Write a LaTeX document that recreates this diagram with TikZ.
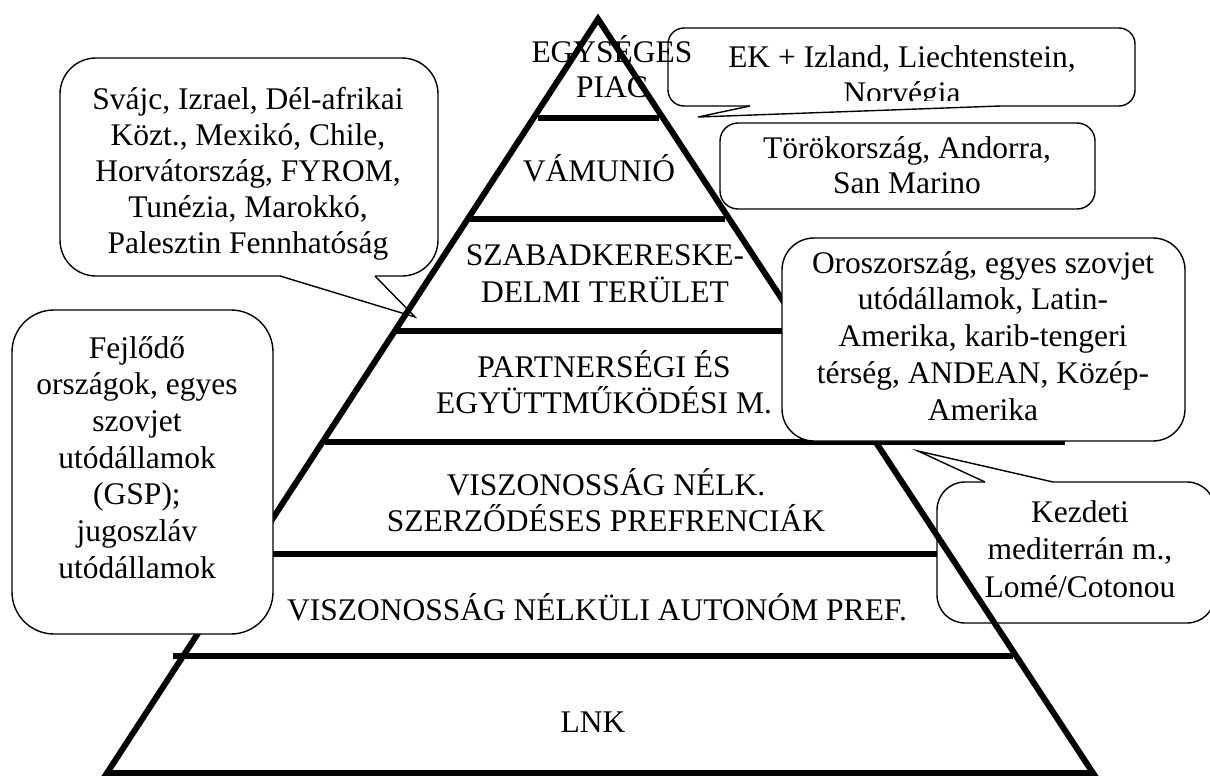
\documentclass[tikz,border=0pt]{standalone}
\usepackage{fontspec}
\setmainfont{Liberation Serif}
\newcommand{\ml}[2][36]{\vtop{\baselineskip=#1pt\lineskiplimit=-\maxdimen\halign{\hfil##\hfil\cr#2\crcr}}}
\begin{document}
\begin{tikzpicture}[x=1pt,y=-1pt,
  every node/.style={inner sep=0pt, outer sep=0pt, font=\fontsize{31.5}{36}\selectfont},
  lvl/.style={line width=5.5pt},
  pyr/.style={line width=6pt, line join=miter},
  box/.style={draw, line width=1.4pt, fill=white, anchor=north west},
  ptr/.style={draw, line width=1.4pt, line join=miter},
  txt/.style={anchor=base},
]
\useasboundingbox (0,0) rectangle (1210,776);

% level lines
\draw[lvl] (538,118) -- (659,118);
\draw[lvl] (470,219) -- (725,219);
\draw[lvl] (395,331) -- (800,331);
\draw[lvl] (325,442) -- (1065,442);
\draw[lvl] (255,554) -- (945,554);
\draw[lvl] (173,656) -- (1013,656);

% callouts under the pyramid outline
\node[box, rounded corners=36pt, minimum width=378pt, minimum height=218pt] (svajc) at (60,58) {};
\coordinate (svajctip) at (415,317);
\fill[white] (280,271) -- (280,276) -- (svajctip) -- (375,276) -- (375,271) -- cycle;
\draw[ptr] (280,276) -- (svajctip) -- (375,276);

\node[box, rounded corners=16pt, minimum width=467pt, minimum height=78pt] (ek) at (668,28) {};
\coordinate (ektip) at (698,117);
\fill[white] (750,101) -- (750,106) -- (ektip) -- (1000,106) -- (1000,101) -- cycle;
\draw[ptr] (750,106) -- (ektip) -- (1000,106);

\node[box, rounded corners=18pt, minimum width=375pt, minimum height=86pt] (torok) at (720,123) {};

\node[box, rounded corners=28pt, minimum width=278pt, minimum height=141pt] (kezdeti) at (937,482) {};
\coordinate (kezdetitip) at (918,451);
\fill[white] (985,487) -- (985,482) -- (kezdetitip) -- (1053,482) -- (1053,487) -- cycle;
\draw[ptr] (985,482) -- (kezdetitip) -- (1053,482);

% pyramid outline
\coordinate (apex) at (598,19);
\coordinate (bl) at (107,773);
\coordinate (br) at (1093,773);
\draw[pyr] (apex) -- (bl) -- (br) -- cycle;

% callouts above the pyramid outline
\node[box, rounded corners=42pt, minimum width=261pt, minimum height=324pt] (fejlodo) at (12,310) {};
\node[box, rounded corners=32pt, minimum width=403pt, minimum height=203pt] (orosz) at (782,238) {};

% pyramid texts
\node[txt] (piac) at (612,63) {\ml[35]{EGYSÉGES\cr PIAC}};
\node[txt] (vamunio) at (599,181) {VÁMUNIÓ};
\node[txt] (szabad) at (605,265) {\ml[37]{SZABADKERESKE-\cr DELMI TERÜLET}};
\node[txt] (partner) at (604,377) {\ml[36]{PARTNERSÉGI ÉS\cr EGYÜTTMŰKÖDÉSI M.}};
\node[txt] (viszonossag) at (606,495) {\ml[36]{VISZONOSSÁG NÉLK.\cr SZERZŐDÉSES PREFRENCIÁK}};
\node[txt] (autonom) at (597,620) {VISZONOSSÁG NÉLKÜLI AUTONÓM PREF.};
\node[txt] (lnk) at (593,732) {LNK};

% callout texts
\begin{scope}
\clip (668,28) rectangle (1135,100);
\node[txt] (ektext) at (902,67) {\ml[36]{EK + Izland, Liechtenstein,\cr Norvégia}};
\end{scope}
\node[txt] (toroktext) at (907,158) {\ml[35]{Törökország, Andorra,\cr San Marino}};
\node[txt] (svajctext) at (248,110) {\ml[35.8]{Svájc, Izrael, Dél-afrikai\cr Közt., Mexikó, Chile,\cr Horvátország, FYROM,\cr Tunézia, Marokkó,\cr Palesztin Fennhatóság}};
\node[txt] (orosztext) at (983,273) {\ml[36.75]{Oroszország, egyes szovjet\cr utódállamok, Latin-\cr Amerika, karib-tengeri\cr térség, ANDEAN, Közép-\cr Amerika}};
\node[txt] (kezdetitext) at (1080,522) {\ml[37.5]{Kezdeti\cr mediterrán m.,\cr Lomé/Cotonou}};
\node[txt] (fejlodotext) at (137,358) {\ml[36.67]{Fejlődő\cr országok, egyes\cr szovjet\cr utódállamok\cr (GSP);\cr jugoszláv\cr utódállamok}};
\end{tikzpicture}
\end{document}
